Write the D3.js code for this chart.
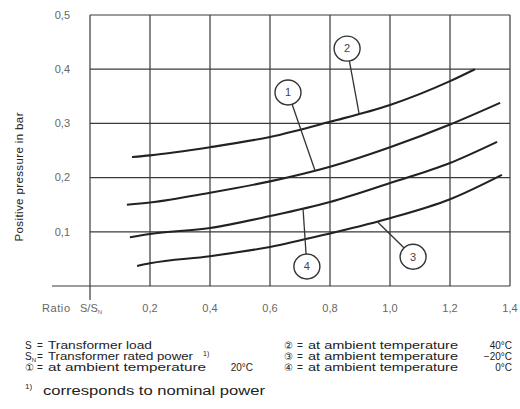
<!DOCTYPE html>
<html>
<head>
<meta charset="utf-8">
<script src="https://cdn.jsdelivr.net/npm/d3@7"></script>
<style>
  body { margin: 0; background: #fff; }
  svg { display: block; font-family: "Liberation Sans", Arial, sans-serif; }
</style>
</head>
<body>
<svg id="chart"></svg>
<script>
// ratio S/SN on x, positive pressure (bar) on y
const xTicks = [0.2, 0.4, 0.6, 0.8, 1.0, 1.2, 1.4];
const yTicks = [0.1, 0.2, 0.3, 0.4, 0.5];

// curve 2: 40°C
const curve2X = [0.14, 0.2, 0.4, 0.6, 0.8, 1.0, 1.2, 1.283];
const curve2Y = [0.238, 0.241, 0.256, 0.275, 0.303, 0.334, 0.378, 0.40];
// curve 1: 20°C
const curve1X = [0.123, 0.2, 0.4, 0.6, 0.8, 1.0, 1.2, 1.367];
const curve1Y = [0.150, 0.154, 0.172, 0.193, 0.220, 0.256, 0.298, 0.338];
// curve 4: 0°C
const curve4X = [0.133, 0.2, 0.4, 0.6, 0.8, 1.0, 1.2, 1.357];
const curve4Y = [0.090, 0.096, 0.107, 0.129, 0.155, 0.190, 0.227, 0.266];
// curve 3: -20°C
const curve3X = [0.157, 0.2, 0.4, 0.6, 0.8, 1.0, 1.2, 1.373];
const curve3Y = [0.037, 0.042, 0.055, 0.072, 0.097, 0.125, 0.160, 0.205];

// circled labels: position of the circle and x where the leader touches the curve
const labelNames = ["1", "2", "3", "4"];
const labelX = [0.66, 0.857, 1.077, 0.723];
const labelY = [0.357, 0.438, 0.054, 0.036];
const labelAnchorX = [0.75, 0.897, 0.957, 0.71];

const legendSymbols = ["S", "SN", "①", "②", "③", "④"];
const legendTexts = ["Transformer load", "Transformer rated power", "at ambient temperature",
                     "at ambient temperature", "at ambient temperature", "at ambient temperature"];
const legendTemps = ["", "", "20°C", "40°C", "−20°C", "0°C"];

const width = 520, height = 409;
const svg = d3.select("#chart").attr("width", width).attr("height", height);

const x = d3.scaleLinear().domain([0, 1.4]).range([90, 510]);
const y = d3.scaleLinear().domain([0, 0.5]).range([286, 15]);

const curves = [
  {name: "2", xs: curve2X, ys: curve2Y},
  {name: "1", xs: curve1X, ys: curve1Y},
  {name: "4", xs: curve4X, ys: curve4Y},
  {name: "3", xs: curve3X, ys: curve3Y}
];
const byName = {};
curves.forEach(c => byName[c.name] = c);

// grid
const grid = svg.append("g").attr("stroke", "#3a3a3a").attr("stroke-width", 1.2);
grid.selectAll(".vg").data(xTicks).join("line")
  .attr("x1", d => x(d)).attr("x2", d => x(d))
  .attr("y1", y(0)).attr("y2", y(0.5));
grid.selectAll(".hg").data(yTicks).join("line")
  .attr("x1", x(0)).attr("x2", x(1.4))
  .attr("y1", d => y(d)).attr("y2", d => y(d));
// left frame runs a little below the axis, baseline runs out to the left
grid.append("line").attr("x1", x(0)).attr("x2", x(0)).attr("y1", y(0.5)).attr("y2", y(0) + 14);
grid.append("line").attr("x1", x(0) - 38).attr("x2", x(1.4)).attr("y1", y(0)).attr("y2", y(0));

// tick labels
svg.append("g").selectAll("text").data(yTicks).join("text")
  .attr("x", 70).attr("y", d => y(d)).attr("dy", "0.35em")
  .attr("text-anchor", "end").attr("font-size", 11).attr("fill", "#666")
  .text(d => d3.format(".1f")(d).replace(".", ","));
svg.append("g").selectAll("text").data(xTicks).join("text")
  .attr("x", d => x(d)).attr("y", 312)
  .attr("text-anchor", "middle").attr("font-size", 11).attr("fill", "#666")
  .text(d => d3.format(".1f")(d).replace(".", ","));
svg.append("text").attr("x", 42).attr("y", 312).attr("font-size", 11).attr("fill", "#666")
  .attr("textLength", 28).text("Ratio");
const ratio = svg.append("text").attr("x", 80).attr("y", 312).attr("font-size", 11).attr("fill", "#666");
ratio.append("tspan").text("S/S");
ratio.append("tspan").attr("font-size", 6).attr("dy", 2).text("N");

// y title
svg.append("text")
  .attr("transform", `translate(23, 177) rotate(-90)`)
  .attr("text-anchor", "middle").attr("font-size", 11.5).attr("fill", "#222")
  .attr("textLength", 129)
  .text("Positive pressure in bar");

// curves
const line = d3.line().x(d => x(d[0])).y(d => y(d[1])).curve(d3.curveMonotoneX);
svg.append("g").selectAll("path").data(curves).join("path")
  .attr("d", c => line(c.xs.map((v, i) => [v, c.ys[i]])))
  .attr("fill", "none").attr("stroke", "#222").attr("stroke-width", 2.1);

// circled labels with leader lines
const r = 12.5;
const labels = labelNames.map((n, i) => {
  const c = byName[n];
  const ax = labelAnchorX[i];
  const ay = d3.scaleLinear().domain(c.xs).range(c.ys)(ax);
  return {n, cx: x(labelX[i]), cy: y(labelY[i]), ax: x(ax), ay: y(ay)};
});
const lg = svg.append("g");
lg.selectAll("line").data(labels).join("line")
  .attr("x1", d => { const a = Math.atan2(d.ay - d.cy, d.ax - d.cx); return d.cx + r * Math.cos(a); })
  .attr("y1", d => { const a = Math.atan2(d.ay - d.cy, d.ax - d.cx); return d.cy + r * Math.sin(a); })
  .attr("x2", d => d.ax).attr("y2", d => d.ay)
  .attr("stroke", "#333").attr("stroke-width", 1.3);
lg.selectAll("ellipse").data(labels).join("ellipse")
  .attr("cx", d => d.cx).attr("cy", d => d.cy).attr("rx", r + 0.5).attr("ry", r)
  .attr("fill", "#fff").attr("stroke", "#333").attr("stroke-width", 1.4);
lg.selectAll("text").data(labels).join("text")
  .attr("x", d => d.cx).attr("y", d => d.cy).attr("dy", "0.35em")
  .attr("text-anchor", "middle").attr("font-size", 11).attr("fill", "#444")
  .text(d => d.n);

// legend below the chart, two columns of three rows
const legend = svg.append("g").attr("font-size", 10).attr("fill", "#222");
const cols = [
  {sym: 25, eq: 37, txt: 48, end: 253},
  {sym: 284, eq: 297, txt: 308, end: 512}
];
legendSymbols.forEach((s, i) => {
  const col = cols[Math.floor(i / 3)];
  const yy = 349 + (i % 3) * 11;
  const sym = legend.append("text").attr("x", col.sym).attr("y", yy);
  if (s === "SN") {
    sym.append("tspan").text("S");
    sym.append("tspan").attr("font-size", 6).attr("dy", 2).text("N");
  } else {
    sym.text(s);
  }
  legend.append("text").attr("x", col.eq).attr("y", yy).text("=");
  const t = legend.append("text").attr("x", col.txt).attr("y", yy).text(legendTexts[i]);
  const w = {"Transformer load": 104, "Transformer rated power": 145}[legendTexts[i]] || (i < 3 ? 158 : 150);
  t.attr("textLength", w).attr("lengthAdjust", "spacingAndGlyphs");
  if (legendTemps[i]) {
    legend.append("text").attr("x", col.end).attr("y", yy).attr("text-anchor", "end").text(legendTemps[i]);
  }
  if (s === "SN") {
    legend.append("text").attr("x", 203).attr("y", yy - 4).attr("font-size", 7).text("1)");
  }
});

const foot = svg.append("g").attr("fill", "#222");
foot.append("text").attr("x", 25).attr("y", 389).attr("font-size", 8).text("1)");
foot.append("text").attr("x", 43).attr("y", 395).attr("font-size", 12.5)
  .attr("textLength", 222).attr("lengthAdjust", "spacingAndGlyphs")
  .text("corresponds to nominal power");
</script>
</body>
</html>
